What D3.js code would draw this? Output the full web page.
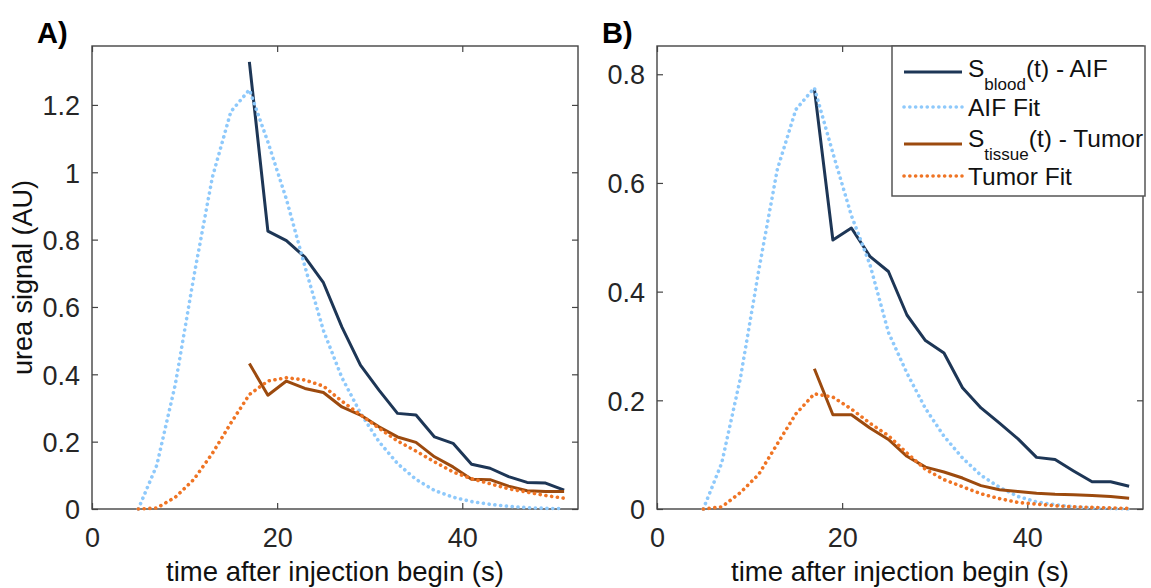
<!DOCTYPE html>
<html>
<head>
<meta charset="utf-8">
<script src="https://cdnjs.cloudflare.com/ajax/libs/d3/7.8.5/d3.min.js"></script>
<style>
  body { margin: 0; background: #fff; }
  svg { font-family: Arial, "Liberation Sans", sans-serif; }
</style>
</head>
<body>
<svg id="svg" width="1151" height="588"></svg>
<script>
// sample times (s)
var tData = [17, 19, 21, 23, 25, 27, 29, 31, 33, 35, 37, 39, 41, 43, 45, 47, 49, 51];
var tFit = [5, 7, 9, 11, 13, 15, 17, 19, 21, 23, 25, 27, 29, 31, 33, 35, 37, 39, 41, 43, 45, 47, 49, 51];

// panel A
var bloodA = [1.328, 0.825, 0.797, 0.748, 0.672, 0.54, 0.427, 0.353, 0.284, 0.279, 0.214, 0.195, 0.133, 0.121, 0.096, 0.079, 0.077, 0.056];
var aifFitA = [0, 0.13, 0.37, 0.69, 0.985, 1.18, 1.245, 1.09, 0.92, 0.72, 0.53, 0.39, 0.285, 0.2, 0.135, 0.088, 0.055, 0.035, 0.022, 0.014, 0.008, 0.004, 0.002, 0.001];
var tissueA = [0.432, 0.338, 0.38, 0.358, 0.346, 0.303, 0.279, 0.244, 0.214, 0.198, 0.155, 0.125, 0.088, 0.087, 0.068, 0.054, 0.052, 0.052];
var tumorFitA = [0, 0.003, 0.035, 0.088, 0.165, 0.255, 0.34, 0.38, 0.39, 0.383, 0.365, 0.32, 0.28, 0.24, 0.202, 0.172, 0.14, 0.11, 0.09, 0.075, 0.06, 0.05, 0.04, 0.032];

// panel B
var bloodB = [0.773, 0.495, 0.517, 0.465, 0.437, 0.357, 0.31, 0.287, 0.223, 0.186, 0.158, 0.129, 0.095, 0.091, 0.07, 0.05, 0.05, 0.042];
var aifFitB = [0, 0.085, 0.24, 0.44, 0.625, 0.735, 0.775, 0.655, 0.54, 0.45, 0.325, 0.25, 0.185, 0.134, 0.094, 0.062, 0.04, 0.023, 0.013, 0.008, 0.004, 0.002, 0.001, 0];
var tissueB = [0.258, 0.1735, 0.1735, 0.149, 0.128, 0.097, 0.077, 0.068, 0.057, 0.043, 0.0355, 0.032, 0.029, 0.027, 0.026, 0.025, 0.023, 0.02];
var tumorFitB = [0, 0.004, 0.03, 0.064, 0.12, 0.175, 0.212, 0.206, 0.184, 0.158, 0.135, 0.103, 0.073, 0.054, 0.041, 0.028, 0.019, 0.012, 0.009, 0.006, 0.004, 0.003, 0.002, 0.001];

var xTicks = [0, 20, 40];
var yTicksA = [0, 0.2, 0.4, 0.6, 0.8, 1, 1.2];
var yTicksB = [0, 0.2, 0.4, 0.6, 0.8];
var legendLabels = [["S", "blood", "(t) - AIF"], ["AIF Fit"], ["S", "tissue", "(t) - Tumor"], ["Tumor Fit"]];

var colBlood = "#1d3656", colAifFit = "#8ec9fb", colTissue = "#9c4a0e", colTumorFit = "#ef7424";
var axisCol = "#444";

var svg = d3.select("#svg");

var panels = [
    {tag: "A)", left: 92, yMax: 1.375, ticks: yTicksA, blood: bloodA, aif: aifFitA, tissue: tissueA, tumor: tumorFitA, legend: false},
    {tag: "B)", left: 657, yMax: 0.852, ticks: yTicksB, blood: bloodB, aif: aifFitB, tissue: tissueB, tumor: tumorFitB, legend: true}
];
var plotTop = 46, plotBottom = 509, plotW = 486;

function series(ts, vs) {
    return ts.map(function(t, i) { return [t, vs[i]]; });
}

panels.forEach(function(p) {
    var x = d3.scaleLinear().domain([0, 52.5]).range([p.left, p.left + plotW]);
    var y = d3.scaleLinear().domain([0, p.yMax]).range([plotBottom, plotTop]);
    var g = svg.append("g");

    // axes box + inner ticks on all sides
    var tl = 6;
    var xb = g.append("g").attr("transform", "translate(0," + plotBottom + ")")
        .call(d3.axisBottom(x).tickValues(xTicks).tickSize(-tl).tickSizeOuter(0).tickFormat(d3.format("d")));
    g.append("g").attr("transform", "translate(0," + plotTop + ")")
        .call(d3.axisTop(x).tickValues(xTicks).tickSize(-tl).tickSizeOuter(0).tickFormat(""));
    var yl = g.append("g").attr("transform", "translate(" + p.left + ",0)")
        .call(d3.axisLeft(y).tickValues(p.ticks).tickSize(-tl).tickSizeOuter(0).tickFormat(d3.format("~g")));
    g.append("g").attr("transform", "translate(" + (p.left + plotW) + ",0)")
        .call(d3.axisRight(y).tickValues(p.ticks).tickSize(-tl).tickSizeOuter(0).tickFormat(""));

    g.selectAll(".domain").remove();
    g.selectAll(".tick line").attr("stroke", axisCol).attr("stroke-width", 1.2);
    g.selectAll(".tick text").attr("fill", "#262626").style("font-size", "27px").style("font-family", "Arial, 'Liberation Sans', sans-serif");
    xb.selectAll(".tick text").attr("dy", null).attr("y", 38);
    yl.selectAll(".tick text").attr("x", -12).attr("dy", "0.36em");

    g.append("rect").attr("x", p.left).attr("y", plotTop).attr("width", plotW).attr("height", plotBottom - plotTop)
        .attr("fill", "none").attr("stroke", axisCol).attr("stroke-width", 1.4);

    var line = d3.line().x(function(d) { return x(d[0]); }).y(function(d) { return y(d[1]); });

    g.append("path").datum(series(tData, p.blood)).attr("d", line)
        .attr("fill", "none").attr("stroke", colBlood).attr("stroke-width", 3).attr("stroke-linejoin", "round");
    g.append("path").datum(series(tFit, p.aif)).attr("d", line)
        .attr("fill", "none").attr("stroke", colAifFit).attr("stroke-width", 3.6)
        .attr("stroke-dasharray", "0.1 5.7").attr("stroke-linecap", "round");
    g.append("path").datum(series(tData, p.tissue)).attr("d", line)
        .attr("fill", "none").attr("stroke", colTissue).attr("stroke-width", 3).attr("stroke-linejoin", "round");
    g.append("path").datum(series(tFit, p.tumor)).attr("d", line)
        .attr("fill", "none").attr("stroke", colTumorFit).attr("stroke-width", 3.6)
        .attr("stroke-dasharray", "0.1 5.7").attr("stroke-linecap", "round");

    // labels
    svg.append("text").attr("x", p.left - 55).attr("y", 43).text(p.tag)
        .style("font-size", "29px").style("font-weight", "bold").attr("fill", "#000");
    svg.append("text").attr("x", p.left + plotW / 2).attr("y", 581).attr("text-anchor", "middle")
        .style("font-size", "27.5px").attr("fill", "#111").text("time after injection begin (s)");

    if (p.tag === "A)") {
        svg.append("text").attr("transform", "translate(32," + ((plotTop + plotBottom) / 2) + ") rotate(-90)")
            .attr("text-anchor", "middle").style("font-size", "27px").attr("fill", "#111")
            .text("urea signal (AU)");
    }

    if (p.legend) {
        var lg = svg.append("g");
        lg.append("rect").attr("x", 892).attr("y", 46).attr("width", 253).attr("height", 150)
            .attr("fill", "#fff").attr("stroke", "#555").attr("stroke-width", 1.5);
        var rows = [
            {yl: 72, yt: 77, col: colBlood, dotted: false},
            {yl: 107, yt: 116, col: colAifFit, dotted: true},
            {yl: 144, yt: 147, col: colTissue, dotted: false},
            {yl: 176, yt: 185, col: colTumorFit, dotted: true}
        ];
        rows.forEach(function(r, i) {
            var ln = lg.append("line").attr("x1", 904).attr("x2", 962).attr("y1", r.yl).attr("y2", r.yl)
                .attr("stroke", r.col).attr("stroke-width", 3);
            if (r.dotted) ln.attr("stroke-dasharray", "0.1 5.7").attr("stroke-linecap", "round").attr("stroke-width", 3.6);
            var txt = lg.append("text").attr("x", 968).attr("y", r.yt).style("font-size", "24.5px").attr("fill", "#111");
            var parts = legendLabels[i];
            if (parts.length === 1) {
                txt.text(parts[0]);
            } else {
                txt.append("tspan").text(parts[0]);
                txt.append("tspan").attr("dy", 13).style("font-size", "17px").text(parts[1]);
                txt.append("tspan").attr("dy", -13).text(parts[2]);
            }
        });
    }
});
</script>
</body>
</html>
